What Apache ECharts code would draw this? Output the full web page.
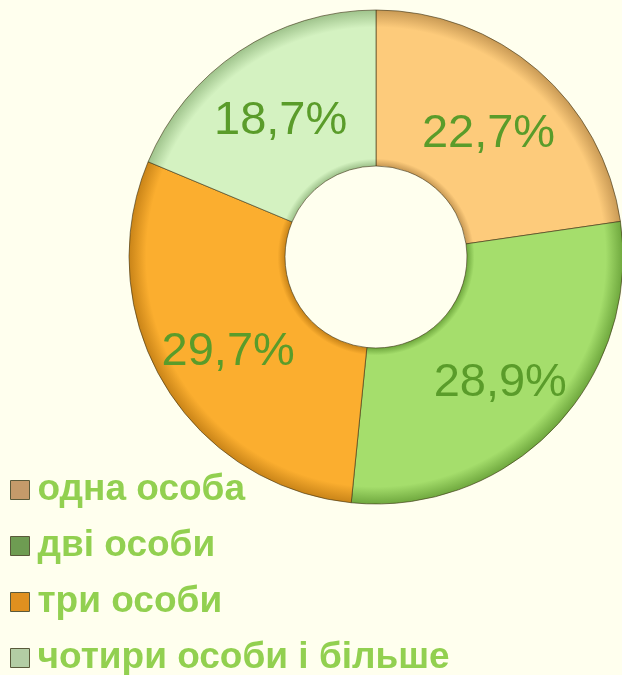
<!DOCTYPE html>
<html>
<head>
<meta charset="utf-8">
<script src="https://cdn.jsdelivr.net/npm/echarts@6/dist/echarts.min.js"></script>
<style>
  html, body { margin: 0; padding: 0; background: #FFFFEE; }
  #chart { width: 622px; height: 675px; }
</style>
</head>
<body>
<div id="chart"></div>
<script>
// дані
var categories = ['одна особа', 'дві особи', 'три особи', 'чотири особи і більше'];
var values = [22.7, 28.9, 29.7, 18.7];
var sliceColors = ['#FDCB7B', '#A5DE6C', '#FBAE2F', '#D4F2C1'];
var edgeColors = ['#C99A55', '#6FA83E', '#C98418', '#9FC38C'];
var legendColors = ['#C49A6A', '#6E9C52', '#E0901F', '#B3CDA4'];

var cx = 376, cy = 257, rOut = 247, rIn = 91;

// радіальний градієнт для ефекту фаски
function bevel(i) {
  var a = rIn / rOut;
  return {
    type: 'radial', x: cx, y: cy, r: rOut, global: true,
    colorStops: [
      { offset: 0, color: sliceColors[i] },
      { offset: a, color: edgeColors[i] },
      { offset: a + 0.03, color: sliceColors[i] },
      { offset: 0.93, color: sliceColors[i] },
      { offset: 1, color: edgeColors[i] }
    ]
  };
}

var chart = echarts.init(document.getElementById('chart'));
chart.setOption({
  backgroundColor: '#FFFFEE',
  animation: false,
  legend: {
    orient: 'vertical',
    left: 10,
    top: 470,
    height: 260,
    padding: 0,
    icon: 'rect',
    itemWidth: 19,
    itemHeight: 19,
    itemGap: 16,
    textStyle: {
      color: '#92D050',
      fontSize: 37,
      fontWeight: 'bold',
      fontFamily: 'Liberation Sans, Arial, sans-serif',
      lineHeight: 40,
      padding: [0, 0, 0, 3]
    },
    data: categories.map(function (c, i) {
      return { name: c, itemStyle: { color: legendColors[i], borderColor: '#5a5a3a', borderWidth: 1 } };
    })
  },
  series: [{
    type: 'pie',
    center: [cx, cy],
    radius: [rIn, rOut],
    startAngle: 90,
    clockwise: true,
    label: {
      show: true,
      position: 'inside',
      formatter: function (p) {
        return '{v|' + p.value.toFixed(1).replace('.', ',') + '%}';
      },
      rich: {
        v: {
          color: '#5A9C2A',
          fontSize: 47,
          fontFamily: 'Liberation Sans, Arial, sans-serif',
          padding: [14, 0, 0, 0]
        }
      }
    },
    labelLine: { show: false },
    emphasis: { disabled: true },
    itemStyle: {
      borderColor: 'rgba(60,50,20,0.6)',
      borderWidth: 1
    },
    data: categories.map(function (c, i) {
      return { name: c, value: values[i], itemStyle: { color: bevel(i) } };
    })
  }]
});
</script>
</body>
</html>
